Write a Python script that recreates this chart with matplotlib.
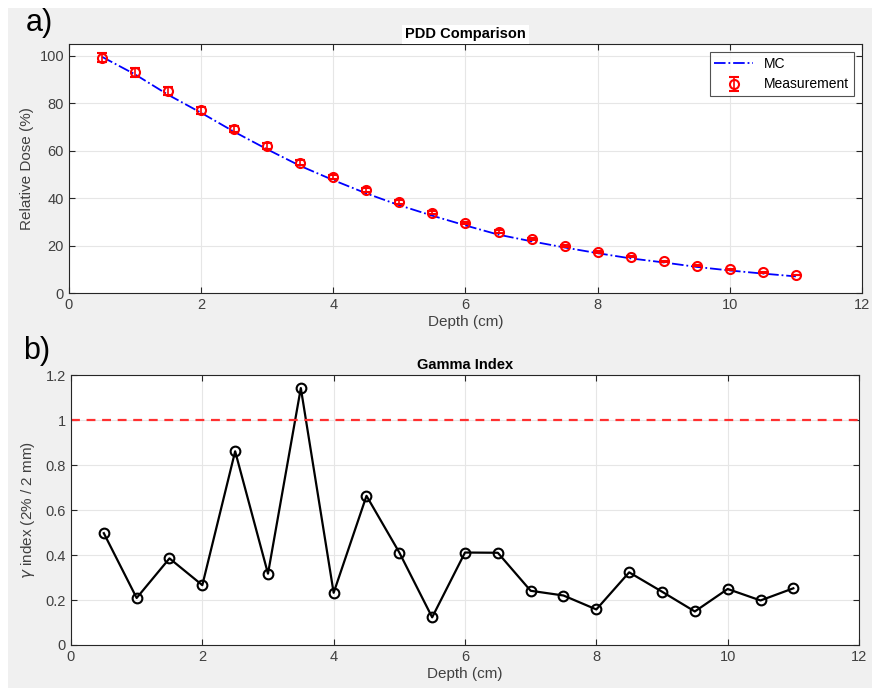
import numpy as np
import matplotlib.pyplot as plt
from matplotlib.patches import Rectangle

plt.rcParams['font.family'] = ['Liberation Sans', 'DejaVu Sans']

# Tiefen (cm)
depth = [0.5, 1.0, 1.5, 2.0, 2.5, 3.0, 3.5, 4.0, 4.5, 5.0, 5.5,
         6.0, 6.5, 7.0, 7.5, 8.0, 8.5, 9.0, 9.5, 10.0, 10.5, 11.0]

meas = [99.3, 93.1, 85.1, 77.1, 69.2, 61.9, 55.0, 48.9, 43.3, 38.3, 33.9,
        29.5, 25.9, 22.8, 20.0, 17.4, 15.3, 13.4, 11.5, 10.1, 8.7, 7.6]
meas_err = [2.0, 1.9, 1.7, 1.5, 1.4, 1.2, 1.1, 1.0, 0.9, 0.8, 0.7,
            0.6, 0.5, 0.5, 0.4, 0.35, 0.3, 0.3, 0.25, 0.2, 0.2, 0.15]

mc = [99.6, 92.2, 83.6, 76.0, 68.0, 60.6, 53.6, 47.6, 42.0, 37.0, 32.6,
      28.5, 24.6, 21.8, 19.2, 16.8, 14.6, 12.9, 11.0, 9.5, 8.2, 7.0]

gamma = [0.497, 0.209, 0.385, 0.266, 0.861, 0.317, 1.142, 0.232, 0.663, 0.411, 0.123,
         0.411, 0.410, 0.241, 0.220, 0.158, 0.323, 0.237, 0.149, 0.249, 0.198, 0.252]

fig = plt.figure(figsize=(8.72, 6.88), dpi=100, facecolor='white')
fig.patches.append(Rectangle((8/872, 0), 1, 1 - 8/688, transform=fig.transFigure,
                             facecolor='#f0f0f0', edgecolor='none', zorder=-10))

tick_col = '#262626'
label_col = '#404040'


def matlab_style(ax):
    ax.set_facecolor('white')
    ax.grid(True, color='#e6e6e6', linewidth=0.8)
    ax.set_axisbelow(True)
    ax.tick_params(direction='in', top=True, right=True, length=4,
                   colors=tick_col, labelsize=10.5, labelcolor=label_col)
    for s in ax.spines.values():
        s.set_color('#262626')
        s.set_linewidth(0.8)


# a) PDD
ax1 = fig.add_axes([0.0791, 0.5741, 0.9094, 0.3619])
matlab_style(ax1)
ax1.plot(depth, mc, '-.', color='blue', linewidth=1.3, label='MC')
ax1.errorbar(depth, meas, yerr=meas_err, fmt='o', color='red', markersize=6.5,
             markerfacecolor='none', markeredgewidth=1.5, capsize=3.5,
             elinewidth=1.2, label='Measurement')
ax1.set_xlim(0, 12)
ax1.set_ylim(0, 105)
ax1.set_xticks(range(0, 13, 2))
ax1.set_yticks(range(0, 101, 20))
ax1.set_xlabel('Depth (cm)', fontsize=11, color=label_col, labelpad=2)
ax1.set_ylabel('Relative Dose (%)', fontsize=11, color=label_col, labelpad=4)
ax1.set_title('PDD Comparison', fontsize=10.5, fontweight='bold', pad=4,
              bbox=dict(facecolor='white', edgecolor='none', pad=2))
leg = ax1.legend(loc='upper right', fontsize=10, frameon=True, fancybox=False,
                 edgecolor='#262626', borderpad=0.3, handlelength=2.8,
                 borderaxespad=0.6)
leg.get_frame().set_linewidth(0.8)

# b) Gamma
ax2 = fig.add_axes([0.0814, 0.0625, 0.9037, 0.3924])
matlab_style(ax2)
ax2.plot(depth, gamma, '-o', color='black', linewidth=1.6, markersize=7,
         markerfacecolor='none', markeredgewidth=1.5)
ax2.axhline(1.0, color='#ff3030', linestyle='--', linewidth=1.6, dashes=(4, 3))
ax2.set_xlim(0, 12)
ax2.set_ylim(0, 1.2)
ax2.set_xticks(range(0, 13, 2))
ax2.set_yticks([0, 0.2, 0.4, 0.6, 0.8, 1.0, 1.2])
ax2.set_yticklabels(['0', '0.2', '0.4', '0.6', '0.8', '1', '1.2'])
ax2.set_xlabel('Depth (cm)', fontsize=11, color=label_col, labelpad=2)
ax2.set_ylabel(r'$\gamma$ index (2% / 2 mm)', fontsize=11, color=label_col, labelpad=6)
ax2.set_title('Gamma Index', fontsize=10.5, fontweight='bold', pad=4)

fig.text(0.03, 0.955, 'a)', fontsize=22, color='black')
fig.text(0.026, 0.478, 'b)', fontsize=22, color='black')

fig.savefig('out.png', dpi=100, facecolor=fig.get_facecolor())
